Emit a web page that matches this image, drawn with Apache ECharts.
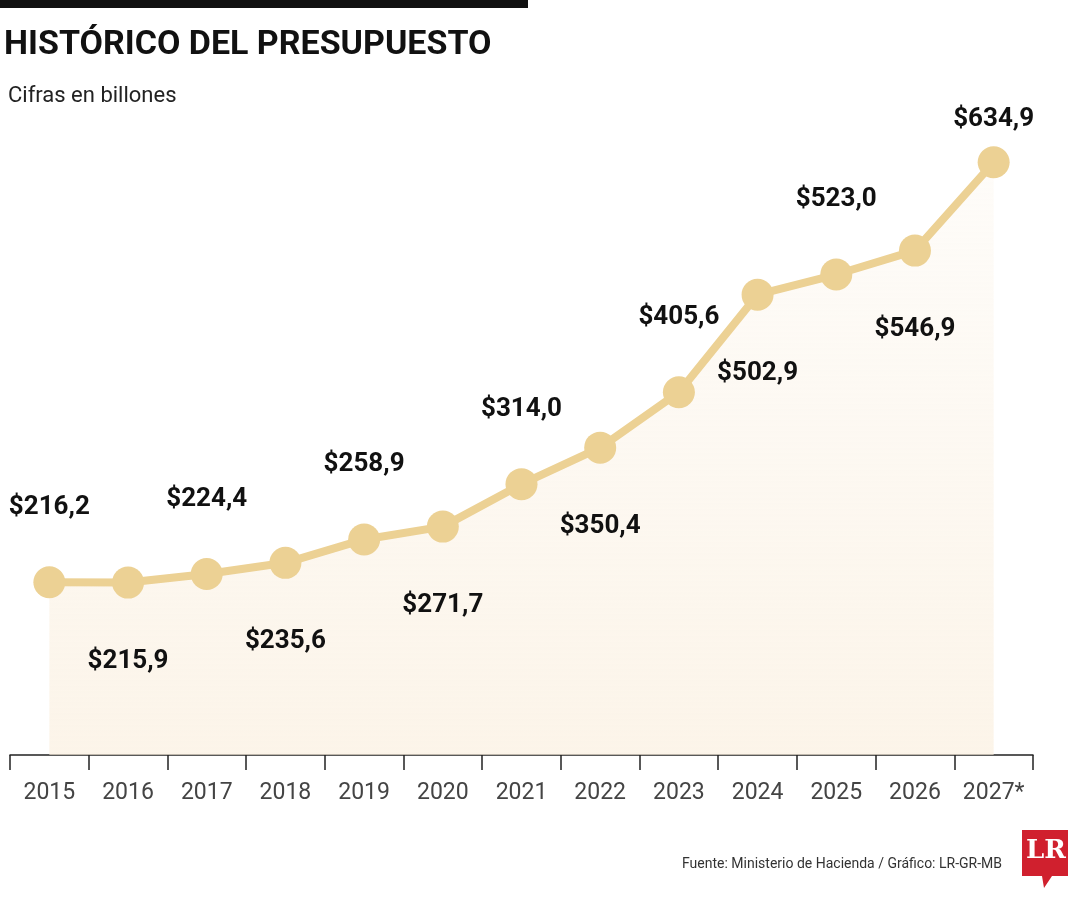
<!DOCTYPE html>
<html>
<head>
<meta charset="utf-8">
<script src="https://cdn.jsdelivr.net/npm/echarts@6/dist/echarts.min.js"></script>
</head>
<body style="margin:0;background:#fff">
<div id="container" style="width:1080px;height:900px"></div>
<script>
var years = ['2015','2016','2017','2018','2019','2020','2021','2022','2023','2024','2025','2026','2027*'];
var budget = [216.2, 215.9, 224.4, 235.6, 258.9, 271.7, 314.0, 350.4, 405.6, 502.9, 523.0, 546.9, 634.9];
var labelTexts = ['$216,2','$215,9','$224,4','$235,6','$258,9','$271,7','$314,0','$350,4','$405,6','$502,9','$523,0','$546,9','$634,9'];

var font = '"Liberation Sans Narrow", "Roboto", sans-serif';
var chart = echarts.init(document.getElementById('container'));

var points = budget.map(function (v, i) {
  var up = i % 2 === 0;
  return {
    value: v,
    label: {
      show: true,
      formatter: labelTexts[i],
      position: up ? 'top' : 'bottom',
      distance: i === 12 ? 14 : (up ? 46 : 50)
    }
  };
});

var option = {
  animation: false,
  grid: { left: 10, right: 47, top: 97, bottom: 145 },
  xAxis: {
    type: 'category',
    data: years,
    boundaryGap: true,
    axisLine: { lineStyle: { color: '#222', width: 1.5 } },
    axisTick: { show: true, length: 15, inside: false, lineStyle: { color: '#222', width: 1.5 } },
    axisLabel: { interval: 0, color: '#444', fontFamily: font, fontSize: 23, margin: 27 }
  },
  yAxis: { type: 'value', min: 44, max: 700, show: false, splitLine: { show: false } },
  graphic: [
    { type: 'rect', left: 0, top: 0, shape: { width: 528, height: 8 }, style: { fill: '#111' } },
    { type: 'text', left: 4, top: 28, style: { text: 'HISTÓRICO DEL PRESUPUESTO', fill: '#111', font: 'bold 34px ' + font } },
    { type: 'text', left: 8, top: 85, style: { text: 'Cifras en billones', fill: '#222', font: '22px ' + font } },
    { type: 'text', right: 78, top: 857, style: { text: 'Fuente: Ministerio de Hacienda / Gráfico: LR-GR-MB', fill: '#333', font: '14px ' + font } },
    { type: 'polygon', shape: { points: [[1022, 830], [1068, 830], [1068, 876], [1052, 876], [1044, 888], [1042, 876], [1022, 876]] }, style: { fill: '#d0202e' } },
    { type: 'text', left: 1026, top: 838, style: { text: 'LR', fill: '#fff', font: 'bold 26px "DejaVu Serif", serif' } }
  ],
  series: [{
    type: 'line',
    data: points,
    symbol: 'circle',
    symbolSize: 32,
    lineStyle: { color: '#ecd194', width: 8 },
    itemStyle: { color: '#ecd194' },
    label: { color: '#111', fontFamily: font, fontWeight: 'bold', fontSize: 26 },
    areaStyle: {
      color: new echarts.graphic.LinearGradient(0, 0, 0, 1, [
        { offset: 0, color: 'rgba(250,240,225,0.3)' },
        { offset: 1, color: 'rgba(250,238,220,0.9)' }
      ])
    }
  }]
};
chart.setOption(option);
</script>
</body>
</html>
